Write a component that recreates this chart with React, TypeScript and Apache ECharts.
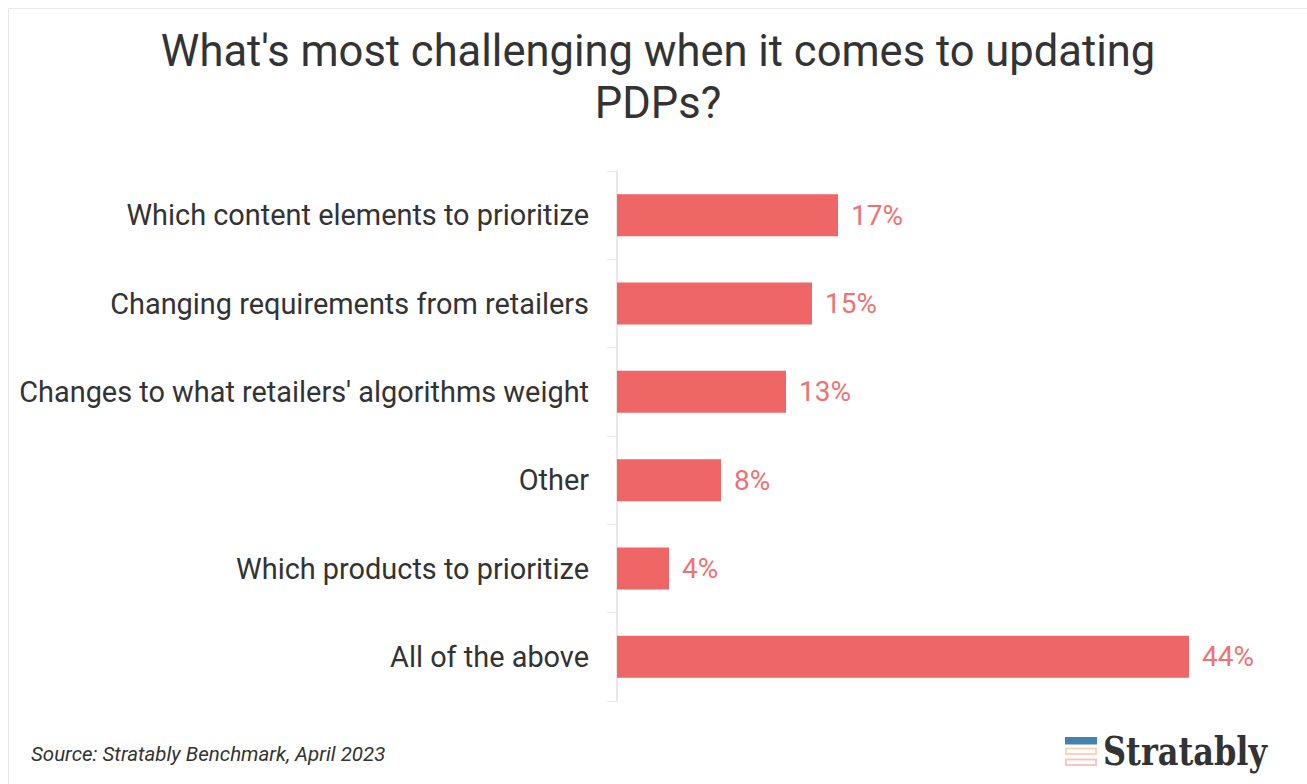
import React, { useEffect, useRef } from "react";
import * as echarts from "echarts";

const titleText = "What's most challenging when it comes to updating\nPDPs?";
const categories = [
  "Which content elements to prioritize",
  "Changing requirements from retailers",
  "Changes to what retailers' algorithms weight",
  "Other",
  "Which products to prioritize",
  "All of the above",
];
const shares = [17, 15, 13, 8, 4, 44];
const sourceNote = "Source: Stratably Benchmark, April 2023";
const brandName = "Stratably";

const FONT = "Roboto";
const BAR = "#ee6666";
const INK = "#333333";

export default function App() {
  const ref = useRef<HTMLDivElement>(null);
  useEffect(() => {
    document.body.style.margin = "0";
    document.body.style.background = "#ffffff";
    const chart = echarts.init(ref.current!, undefined, { renderer: "svg" });
    chart.setOption({
      animation: false,
      backgroundColor: "#ffffff",
      title: {
        text: titleText,
        left: 653,
        top: 20,
        textAlign: "center",
        textStyle: { fontFamily: FONT, fontSize: 43.5, fontWeight: 400, color: INK, lineHeight: 52 },
      },
      grid: { left: 617, top: 171, width: 650, height: 530, containLabel: false },
      xAxis: { type: "value", min: 0, max: 50, show: false },
      yAxis: {
        type: "category",
        inverse: true,
        offset: 1,
        data: categories,
        axisLine: { show: true, lineStyle: { color: "#e8e8e8", width: 2 } },
        axisTick: { show: true, length: 10, alignWithLabel: false, lineStyle: { color: "#e8e8e8", width: 1 } },
        axisLabel: { fontFamily: FONT, fontSize: 28.9, color: INK, margin: 27, padding: [0, 0, 2, 0] },
        splitLine: { show: false },
      },
      series: [
        {
          type: "bar",
          data: shares,
          barWidth: 42,
          itemStyle: { color: BAR },
          label: {
            show: true,
            position: "right",
            distance: 13,
            formatter: "{c}%",
            fontFamily: FONT,
            fontSize: 28,
            color: "#ef7272",
          },
        },
      ],
      graphic: [
        { type: "rect", shape: { x: 8.5, y: 8.5, width: 1400, height: 900 }, style: { fill: "none", stroke: "#e8e8e8", lineWidth: 1 }, silent: true },
        { type: "text", x: 31, y: 744, style: { text: sourceNote, fontFamily: FONT, fontStyle: "italic", fontSize: 20.5, fill: INK } },
        { type: "rect", shape: { x: 1065, y: 737, width: 32, height: 7.5 }, style: { fill: "#4682b0" } },
        { type: "rect", shape: { x: 1066, y: 748.5, width: 30, height: 5.5 }, style: { fill: "#ffffff", stroke: "#fbd3b8", lineWidth: 2 } },
        { type: "rect", shape: { x: 1066, y: 759.5, width: 30, height: 5.5 }, style: { fill: "#ffffff", stroke: "#f8c4c4", lineWidth: 2 } },
        { type: "text", x: 1103, y: 731, scaleX: 0.8, style: { text: brandName, fontFamily: "DejaVu Serif", fontWeight: 700, fontSize: 40, fill: INK } },
      ],
    });
    return () => chart.dispose();
  }, []);
  return <div ref={ref} style={{ width: 1307, height: 784 }} />;
}
